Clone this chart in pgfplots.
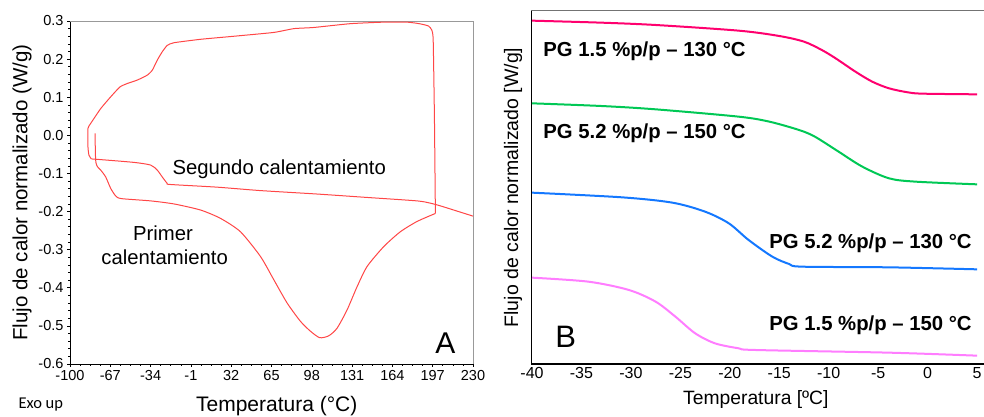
\documentclass[border=0pt]{standalone}
\usepackage{fontspec}
\setmainfont{Liberation Sans}
\newfontfamily\carlito{Carlito}
\usepackage{pgfplots}
\pgfplotsset{compat=1.18}
\newcommand\fs[1]{\fontsize{#1}{#1}\selectfont}
\definecolor{redA}{RGB}{255,70,70}
\definecolor{cPink}{RGB}{255,0,110}
\definecolor{cGreen}{RGB}{0,200,85}
\definecolor{cBlue}{RGB}{20,120,255}
\definecolor{cViolet}{RGB}{255,125,255}
\begin{document}
\begin{tikzpicture}[x=1pt,y=1pt]
% ---------------- Panel A ----------------
\begin{axis}[
  at={(70pt,53pt)}, anchor=south west, scale only axis,
  width=403pt, height=343pt,
  xmin=-100, xmax=230, ymin=-0.6, ymax=0.3,
  axis x line*=bottom, axis y line*=left,
  axis line style={black, line width=0.8pt},
  xtick={-100,-67,-34,-1,32,65,98,131,164,197,230},
  ytick={-0.6,-0.5,-0.4,-0.3,-0.2,-0.1,0,0.1,0.2,0.3},
  minor x tick num=3, minor y tick num=4,
  tick align=outside, major tick length=3pt, minor tick length=2pt,
  tick style={black, line width=0.6pt},
  /pgf/number format/assume math mode=true,
  ticklabel style={font=\fs{14.5}},
  yticklabel style={/pgf/number format/.cd, fixed, fixed zerofill, precision=1},
  xticklabel style={/pgf/number format/.cd, fixed, precision=0},
  ylabel={Flujo de calor normalizado (W/g)},
  ylabel style={font=\fs{20.5}, at={(axis description cs:-0.119,0.5)}, anchor=center, rotate=0},
  xlabel={Temperatura (°C)},
  xlabel style={font=\fs{21}, at={(axis description cs:0.513,-0.122)}, anchor=center},
  clip=false,
]
\draw[gray!80, line width=0.8pt] (rel axis cs:0,1) -- (rel axis cs:1,1) -- (rel axis cs:1,0);
% first heating
\addplot[redA, line width=1pt, smooth, tension=0.4] coordinates {
(-79.5,0.005) (-79.0,-0.065) (-77.6,-0.082) (-74.9,-0.091) (-70.8,-0.109)
(-66.7,-0.139) (-62.6,-0.159) (-58.0,-0.166) (-34.0,-0.172) (-14.9,-0.180)
(6.9,-0.196) (23.3,-0.218) (39.6,-0.253) (56.0,-0.318) (66.9,-0.379)
(77.8,-0.440) (88.7,-0.488) (96.9,-0.514) (104.5,-0.531) (111.9,-0.526)
(118.7,-0.506) (126.9,-0.458) (135.1,-0.397) (143.3,-0.344) (156.9,-0.292)
(170.5,-0.253) (184.2,-0.226) (199.2,-0.205)
};
% cooling
\addplot[redA, line width=1pt, smooth, tension=0.3] coordinates {
(199.2,-0.205) (198.4,0.05) (197.4,0.250) (196.3,0.276) (193.5,0.287)
(186,0.293) (176.0,0.297) (156.9,0.297) (129.6,0.293) (99.6,0.283)
(83.3,0.280) (66.9,0.270) (34.2,0.260) (6.9,0.252) (-14.9,0.243)
(-20.4,0.236) (-24.5,0.219) (-28.6,0.197) (-32.6,0.171) (-36.7,0.158)
(-44.9,0.145) (-53.1,0.136) (-59.1,0.127) (-66.7,0.101) (-74.9,0.070)
(-83.1,0.031) (-85.3,0.018) (-85.3,-0.030) (-84.5,-0.052) (-82.5,-0.062)
};
% second heating
\addplot[redA, line width=1pt, smooth, tension=0.4] coordinates {
(-82.5,-0.062) (-77.6,-0.063) (-47.6,-0.071) (-34.0,-0.078) (-28.6,-0.091)
(-24.5,-0.109) (-20.4,-0.126) (-17.6,-0.129) (20.5,-0.136) (56.0,-0.145)
(102.3,-0.154) (143.3,-0.163) (184.2,-0.172) (195.1,-0.178) (203.2,-0.185)
(214.2,-0.196) (230,-0.212)
};
\node[font=\fs{20.3}] at (axis cs:71.3,-0.088) {Segundo calentamiento};
\node[font=\fs{20.3}] at (axis cs:-23.9,-0.257) {Primer};
\node[font=\fs{20.3}] at (axis cs:-22.5,-0.321) {calentamiento};
\node[font=\fs{30}] at (axis cs:207.3,-0.545) {A};
\end{axis}
\node[anchor=west, font=\carlito\fs{16.5}] at (15pt,12pt) {Exo up};
% ---------------- Panel B ----------------
\begin{axis}[
  at={(531.3pt,53pt)}, anchor=south west, scale only axis,
  width=452.7pt, height=353pt,
  xmin=-40.07, xmax=5.7, ymin=-1092, ymax=-33,
  axis x line*=bottom, axis y line*=left,
  axis line style={black, line width=1.5pt},
  xtick={-40,-35,-30,-25,-20,-15,-10,-5,0,5},
  ytick=\empty,
  major tick length=0pt,
  /pgf/number format/assume math mode=true,
  ticklabel style={font=\fs{16}},
  xlabel={Temperatura [ºC]},
  xlabel style={font=\fs{19.3}, at={(axis description cs:0.496,-0.102)}, anchor=center},
  ylabel={Flujo de calor normalizado [W/g]},
  ylabel style={font=\fs{19.5}, at={(axis description cs:-0.040,0.5)}, anchor=center},
  clip=false,
]
\draw[gray!90!black, line width=1pt] (rel axis cs:0,1) -- (rel axis cs:1,1);
\addplot[cPink, line width=2pt, smooth, tension=0.5] coordinates {
(-40,-62) (-33,-68) (-27.5,-75) (-19.1,-92) (-15,-108) (-12.5,-125)
(-10.7,-150) (-9.3,-175) (-7.3,-215) (-5.6,-245) (-3.9,-265) (-2,-277)
(-0.5,-281) (5,-283)
};
\addplot[cGreen, line width=2pt, smooth, tension=0.5] coordinates {
(-40,-310) (-33,-318) (-27.5,-328) (-19.1,-350) (-16,-365) (-13,-390)
(-11.4,-410) (-9,-455) (-6.6,-500) (-3.9,-535) (-1.2,-545) (5,-553)
};
\addplot[cBlue, line width=2pt, smooth, tension=0.5] coordinates {
(-40,-578) (-30.9,-592) (-25.8,-608) (-22.5,-635) (-20.1,-670) (-18.1,-720)
(-15.7,-770) (-14,-792) (-12.7,-800) (-3.9,-802) (5,-808)
};
\addplot[cViolet, line width=2pt, smooth, tension=0.5] coordinates {
(-40,-833) (-34.3,-845) (-30.2,-870) (-27.5,-905) (-25.5,-950) (-23.5,-1000)
(-21.5,-1030) (-19.1,-1045) (-17.4,-1050) (-3.9,-1058) (5,-1067)
};
\node[anchor=west, font=\bfseries\fs{20.3}] at (axis cs:-39.2,-155) {PG 1.5 \%p/p – 130 °C};
\node[anchor=west, font=\bfseries\fs{20.3}] at (axis cs:-39.2,-400) {PG 5.2 \%p/p – 150 °C};
\node[anchor=east, font=\bfseries\fs{20.3}] at (axis cs:4.8,-730) {PG 5.2 \%p/p – 130 °C};
\node[anchor=east, font=\bfseries\fs{20.3}] at (axis cs:4.8,-975) {PG 1.5 \%p/p – 150 °C};
\node[font=\fs{31}] at (axis cs:-36.6,-1010) {B};
\end{axis}
\pgfresetboundingbox
\path (0pt,0pt) rectangle (984pt,417pt);
\end{tikzpicture}
\end{document}
